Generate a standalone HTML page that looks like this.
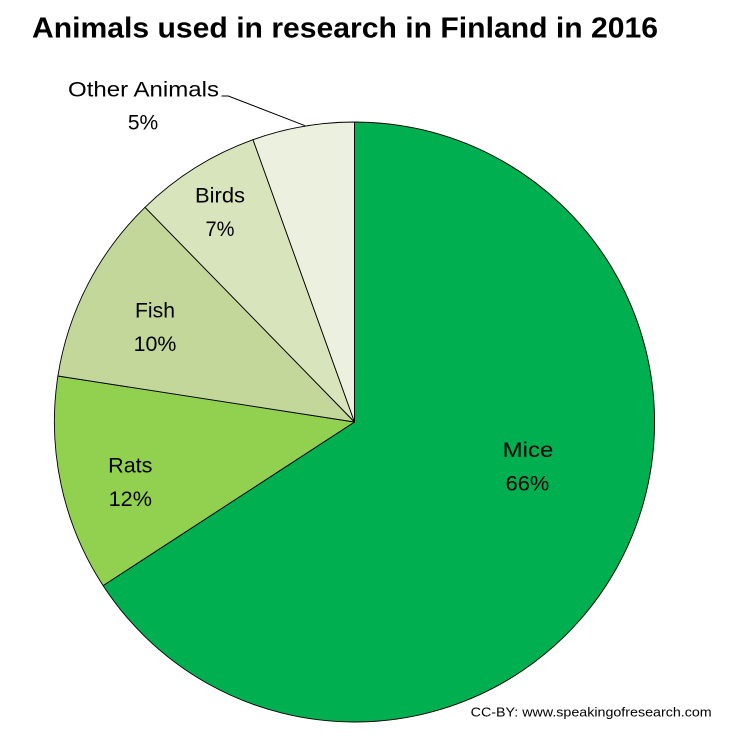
<!DOCTYPE html>
<html>
<head>
<meta charset="utf-8">
<style>
  html, body { margin: 0; padding: 0; background: #ffffff; }
  svg { display: block; }
  text { font-family: "Liberation Sans", Arial, sans-serif; fill: #000; }
</style>
</head>
<body>
<svg width="735" height="750" viewBox="0 0 735 750" xmlns="http://www.w3.org/2000/svg">
  <rect width="735" height="750" fill="#ffffff"/>
  <text x="32" y="37.5" font-size="29" font-weight="bold" textLength="626" lengthAdjust="spacingAndGlyphs">Animals used in research in Finland in 2016</text>

  <g stroke="#000" stroke-width="0.9" stroke-linejoin="round">
    <path d="M354.5 422 L354.5 122 A300 300 0 1 1 103.1 585.6 Z" fill="#00B050"/>
    <path d="M354.5 422 L103.1 585.6 A300 300 0 0 1 57.9 376 Z" fill="#92D050"/>
    <path d="M354.5 422 L57.9 376 A300 300 0 0 1 145 207.3 Z" fill="#C4D79B"/>
    <path d="M354.5 422 L145 207.3 A300 300 0 0 1 253 139.7 Z" fill="#D8E4BC"/>
    <path d="M354.5 422 L253 139.7 A300 300 0 0 1 354.5 122 Z" fill="#EBF1DE"/>
  </g>

  <polyline points="221.5,96 228.3,96 305,125.7" fill="none" stroke="#000" stroke-width="1"/>

  <text x="68" y="96.7" font-size="21" textLength="151" lengthAdjust="spacingAndGlyphs">Other Animals</text>
  <text x="143" y="129.3" font-size="21" text-anchor="middle">5%</text>

  <text x="220" y="202.7" font-size="21" text-anchor="middle" textLength="50" lengthAdjust="spacingAndGlyphs">Birds</text>
  <text x="220" y="236" font-size="21" text-anchor="middle" textLength="29" lengthAdjust="spacingAndGlyphs">7%</text>

  <text x="155" y="317.7" font-size="21" text-anchor="middle" textLength="40" lengthAdjust="spacingAndGlyphs">Fish</text>
  <text x="155" y="351" font-size="21" text-anchor="middle" textLength="42.7" lengthAdjust="spacingAndGlyphs">10%</text>

  <text x="130.3" y="472.7" font-size="21" text-anchor="middle" textLength="44.3" lengthAdjust="spacingAndGlyphs">Rats</text>
  <text x="130.3" y="506" font-size="21" text-anchor="middle" textLength="43.3" lengthAdjust="spacingAndGlyphs">12%</text>

  <text x="528" y="457" font-size="21" text-anchor="middle" textLength="50.6" lengthAdjust="spacingAndGlyphs">Mice</text>
  <text x="527.5" y="490.7" font-size="21" text-anchor="middle" textLength="43.6" lengthAdjust="spacingAndGlyphs">66%</text>

  <text x="470.7" y="716.7" font-size="13" fill="#1a1a1a" textLength="241" lengthAdjust="spacingAndGlyphs">CC-BY: www.speakingofresearch.com</text>
</svg>
</body>
</html>
